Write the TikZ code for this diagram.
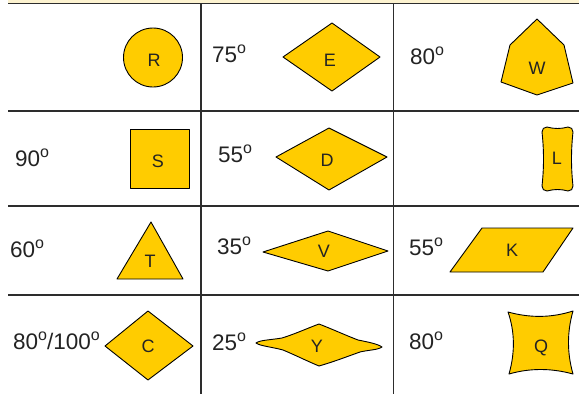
\documentclass[tikz,border=0pt]{standalone}
\usepackage{fontspec}
\setmainfont{Liberation Sans}
\definecolor{gold}{RGB}{255,204,0}
\definecolor{cream}{RGB}{253,243,208}
\definecolor{gridc}{RGB}{45,45,45}
\definecolor{txt}{RGB}{35,35,35}
\newcommand{\dg}{\raisebox{8.2pt}{\fontsize{16}{16}\selectfont o}}
\tikzset{
  gridline/.style={draw=gridc, line width=1.4pt},
  shapefill/.style={fill=gold, draw=black, line width=0.9pt, line join=round},
  angle/.style={anchor=base west, inner sep=0pt, text=txt, font=\fontsize{22.5}{22.5}\selectfont},
  lab/.style={anchor=base, inner sep=0pt, text=txt, font=\fontsize{18}{18}\selectfont}
}
\begin{document}
\begin{tikzpicture}[x=1pt,y=-1pt]
\useasboundingbox (0,0) rectangle (579,394);
% top band
\fill[cream] (8,0) rectangle (579,3);
% grid
\draw[gridline] (8,3.5) -- (579,3.5);
\draw[gridline] (8,111) -- (579,111);
\draw[gridline] (8,206) -- (579,206);
\draw[gridline] (8,295) -- (579,295);
\draw[gridline] (201,3.5) -- (201,394);
\draw[gridline] (393.5,3.5) -- (393.5,394);
% R
\draw[shapefill] (153,57.5) circle[radius=29.5];
\node[lab] (R) at (154,66) {R};
% E
\draw[shapefill] (283,57) -- (332,23) -- (380,57) -- (332,91) -- cycle;
\node[lab] (E) at (330,66) {E};
\node[angle] (aE) at (212,62) {75\dg};
% W
\draw[shapefill] (537,19) -- (564,45) -- (573,83) -- (537,95) -- (501,82) -- (510,45) -- cycle;
\node[lab] (W) at (537,74) {W};
\node[angle] (aW) at (410,64) {80\dg};
% S
\draw[shapefill] (130,129) rectangle (189,188);
\node[lab] (S) at (158,167) {S};
\node[angle] (aS) at (15,166) {90\dg};
% D
\draw[shapefill] (276,157) -- (329,128) -- (387,157) -- (329,190) -- cycle;
\node[lab] (D) at (327,166) {D};
\node[angle] (aD) at (218,162) {55\dg};
% L
\draw[shapefill] (547,127) .. controls (554,129) and (561,129) .. (568,127)
  .. controls (571,127) and (573,129) .. (573,132)
  .. controls (571,150) and (571,168) .. (573,186)
  .. controls (573,189) and (571,191) .. (568,191)
  .. controls (561,189) and (554,189) .. (547,191)
  .. controls (544,191) and (542,189) .. (542,186)
  .. controls (544,168) and (544,150) .. (542,132)
  .. controls (542,129) and (544,127) .. (547,127) -- cycle;
\node[lab] (L) at (557,164) {L};
% T
\draw[shapefill] (151,222) -- (183,279) -- (117,279) -- cycle;
\node[lab] (T) at (150,267) {T};
\node[angle] (aT) at (10,257) {60\dg};
% V
\draw[shapefill] (263,252) -- (328,231) -- (388,251) -- (328,271) -- cycle;
\node[lab] (V) at (324,257) {V};
\node[angle] (aV) at (217,254) {35\dg};
% K
\draw[shapefill] (450,272) -- (482,228) -- (573,228) -- (543,272) -- cycle;
\node[lab] (K) at (512,256) {K};
\node[angle] (aK) at (409,255) {55\dg};
% C
\draw[shapefill] (105,346) -- (148,311) -- (193,346) -- (148,380) -- cycle;
\node[lab] (C) at (148,352) {C};
\node[angle] (aC) at (13,349) {80\dg/100\dg};
% Y
\draw[shapefill] (256,343) .. controls (260,340) and (270,340) .. (282,338)
  .. controls (295,334) and (308,328) .. (319,324)
  .. controls (332,329) and (345,335) .. (358,340)
  .. controls (368,342) and (378,344) .. (382,347)
  .. controls (378,350) and (368,350) .. (360,352)
  .. controls (346,357) and (333,362) .. (319,366)
  .. controls (307,361) and (295,355) .. (283,350)
  .. controls (272,347) and (260,346) .. (256,343) -- cycle;
\node[lab] (Y) at (317,352) {Y};
\node[angle] (aY) at (212,350) {25\dg};
% Q
\draw[shapefill] (508,312) .. controls (530,318) and (551,318) .. (573,311)
  .. controls (567,332) and (567,353) .. (573,374)
  .. controls (551,368) and (530,368) .. (509,374)
  .. controls (515,353) and (515,332) .. (508,312) -- cycle;
\node[lab] (Q) at (541,352) {Q};
\node[angle] (aQ) at (409,349) {80\dg};
\end{tikzpicture}
\end{document}
